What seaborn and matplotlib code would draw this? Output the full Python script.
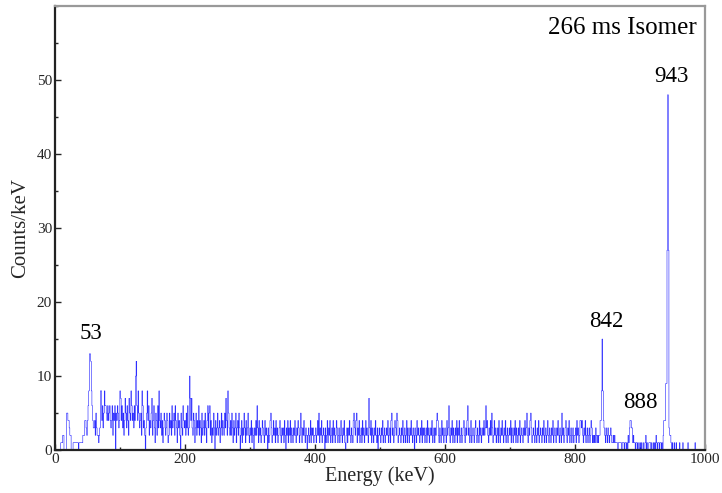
import numpy as np
import pandas as pd
import matplotlib
matplotlib.use("Agg")
import matplotlib.pyplot as plt
from matplotlib.ticker import MultipleLocator
import seaborn as sns

# Counts per 1 keV channel, grouped by 100 keV blocks
counts_000 = [0,0,0,0,0,0,0,0,0,1, 1,1,2,2,0,0,0,0,5,5, 4,4,3,2,2,0,0,0,1,1,
              1,1,1,1,1,1,0,1,1,1, 1,1,1,2,2,2,4,4,3,2, 4,6,8,13,13,12,8,6,4,3,
              3,4,2,5,3,2,2,1,2,3, 8,8,4,6,3,5,8,6,6,5, 4,6,4,5,6,4,3,4,6,2,
              5,4,6,0,5,4,6,5,3,4]
counts_100 = [8,7,4,6,3,5,2,4,7,5, 3,6,4,2,7,5,4,8,6,4, 5,3,6,4,10,12,6,4,8,5,
              3,4,5,2,8,6,3,4,2,0, 3,5,8,4,6,2,4,3,5,7, 2,4,6,3,1,5,4,2,6,3,
              8,4,3,5,2,4,1,3,5,4, 2,3,5,4,1,2,5,3,4,2, 6,3,4,5,2,6,4,3,1,5,
              3,4,2,0,5,3,2,6,4,3]
counts_200 = [4,2,5,3,6,2,3,10,7,4, 7,3,2,5,4,1,3,5,2,4, 3,6,2,4,3,1,5,2,3,4,
              2,5,3,1,4,6,3,5,6,2, 4,1,3,2,5,3,0,4,2,3, 5,2,3,4,1,3,5,2,4,3,
              2,5,3,7,4,2,8,5,3,2, 4,2,5,3,1,4,2,3,5,1, 3,4,2,5,3,0,2,4,1,3,
              2,5,3,1,4,2,3,5,2,1]
counts_300 = [3,2,4,1,3,2,0,3,2,4, 2,6,3,1,4,2,3,1,2,4, 3,2,1,4,2,3,2,0,3,1,
              2,4,5,3,1,2,4,2,3,1, 4,2,3,1,2,3,4,2,1,3, 2,3,1,4,2,0,3,2,4,1,
              3,2,4,1,3,2,1,3,2,4, 2,1,3,2,4,3,1,2,5,3, 1,3,2,4,2,1,3,2,0,2,
              3,1,2,4,1,3,2,3,1,2]
counts_400 = [2,3,1,2,4,2,5,1,3,2, 4,1,2,3,2,0,3,1,2,4, 1,3,2,4,1,2,3,1,4,2,
              3,1,2,4,3,1,2,3,1,2, 4,2,1,3,2,4,1,0,2,3, 1,3,2,4,2,1,3,2,1,4,
              5,3,2,4,5,1,3,2,4,1, 2,3,1,4,2,3,1,2,4,2, 3,2,1,7,3,2,4,1,3,2,
              1,3,2,4,2,1,3,0,2,3]
counts_500 = [2,1,3,2,4,1,2,3,1,2, 3,2,4,1,2,3,1,4,5,2, 3,1,2,4,3,2,5,4,1,2,
              3,2,1,3,2,4,1,2,3,1, 2,4,1,3,2,1,3,2,4,2, 1,3,2,0,3,2,1,4,2,3,
              2,1,3,2,4,1,3,2,3,1, 2,3,1,4,2,3,1,2,3,2, 4,1,2,3,1,3,2,4,5,4,
              2,1,3,2,1,4,2,3,1,2]
counts_600 = [3,2,1,4,2,3,6,2,1,3, 2,4,1,3,2,1,3,2,4,1, 3,2,4,1,2,3,1,2,3,4,
              2,1,3,2,4,6,2,3,1,2, 4,1,2,3,2,1,3,4,2,1, 3,2,1,4,2,3,1,2,3,2,
              4,2,3,6,3,4,2,1,3,2, 4,2,5,3,1,2,4,2,3,1, 2,3,1,4,2,1,3,2,4,2,
              1,3,2,4,1,2,3,1,2,3]
counts_700 = [2,4,1,3,2,1,3,2,4,1, 3,2,1,3,2,4,1,2,3,2, 1,3,2,4,2,3,5,2,1,3,
              2,4,5,3,1,2,3,2,1,4, 2,1,3,2,4,1,2,3,2,1, 3,2,4,1,2,3,1,2,4,2,
              1,3,2,1,3,2,4,1,2,3, 2,1,3,2,4,2,1,3,2,1, 5,2,3,1,2,3,4,2,1,3,
              2,4,1,2,3,1,2,3,1,2]
counts_800 = [2,3,1,4,2,3,1,2,4,4, 3,4,2,1,3,2,4,1,2,3, 1,2,3,1,2,4,3,1,2,1,
              2,1,3,2,1,2,1,2,2,4, 4,8,15,8,4,3,2,1,3,2, 1,3,2,1,2,3,2,1,1,2,
              1,2,1,1,1,1,0,1,1,1, 1,1,0,1,1,1,0,1,1,0, 1,0,2,1,3,4,4,3,3,1,
              2,1,1,0,1,1,0,1,0,0]
counts_900 = [1,0,1,0,0,1,0,0,1,2, 0,1,0,0,1,1,1,0,1,0, 0,1,0,1,0,2,1,0,1,1,
              0,1,1,0,1,0,2,4,4,4, 9,9,27,48,27,3,2,2,1,0, 1,0,0,1,0,0,1,0,0,0,
              0,1,0,0,0,0,1,0,0,0, 0,0,0,0,1,0,0,0,0,0, 0,0,0,0,0,1,0,0,0,0,
              0,0,0,0,0,0,0,0,0,0]

# Labelled gamma lines (keV) with label anchor positions
peak_labels = ["53", "842", "888", "943"]
peak_label_x = [55, 848, 901, 949]
peak_label_y = [15.8, 17.4, 6.4, 50.5]
title_text = "266 ms Isomer"

counts = np.concatenate([counts_000, counts_100, counts_200, counts_300, counts_400,
                         counts_500, counts_600, counts_700, counts_800, counts_900])
energy = np.arange(len(counts)) + 0.5
df = pd.DataFrame({"energy": energy, "counts": counts})

sns.set_style("ticks")
plt.rcParams["font.family"] = ["Liberation Serif", "DejaVu Serif"]
plt.rcParams["xtick.direction"] = "in"
plt.rcParams["ytick.direction"] = "in"

fig = plt.figure(figsize=(7.22, 4.93), dpi=100)
ax = fig.add_axes([0.076, 0.087, 0.9, 0.901])

sns.histplot(data=df, x="energy", weights="counts", binwidth=1, binrange=(0, 1000),
             element="step", fill=False, color="#1010ff", linewidth=0.38, ax=ax)

ax.set_xlim(0, 1000)
ax.set_ylim(0, 60)
ax.xaxis.set_major_locator(MultipleLocator(200))
ax.xaxis.set_minor_locator(MultipleLocator(100))
ax.yaxis.set_major_locator(MultipleLocator(10))
ax.yaxis.set_minor_locator(MultipleLocator(5))
ax.set_yticks([0, 10, 20, 30, 40, 50])
ax.tick_params(axis="both", which="major", labelsize=11, length=4, width=1, pad=2)
ax.tick_params(axis="both", which="minor", length=2.5, width=1)

ax.set_xlabel("Energy (keV)", fontsize=14.5, labelpad=0)
ax.set_ylabel("Counts/keV", fontsize=15, labelpad=5)

for side in ["left", "bottom"]:
    ax.spines[side].set_color("#222222")
    ax.spines[side].set_linewidth(1.6)
for side in ["top", "right"]:
    ax.spines[side].set_color("#999999")
    ax.spines[side].set_linewidth(1.6)
    ax.spines[side].set_visible(True)

for lab, lx, ly in zip(peak_labels, peak_label_x, peak_label_y):
    ax.text(lx, ly, lab, ha="center", va="center", fontsize=16.5, color="black")

ax.text(988, 57, title_text, ha="right", va="center", fontsize=18, color="black")

fig.savefig("out.png", dpi=100)
